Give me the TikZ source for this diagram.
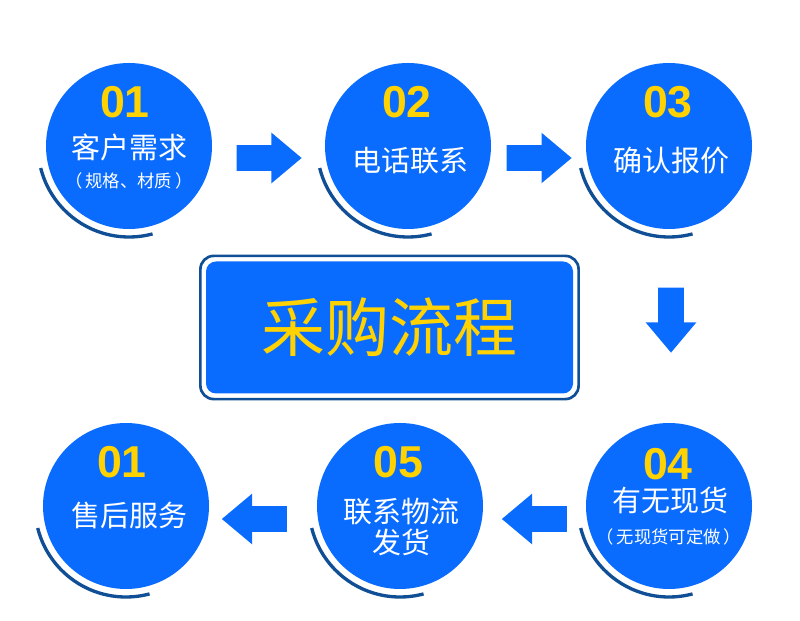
\documentclass[tikz,border=0pt]{standalone}
\usepackage{fontspec}
\newfontfamily\cjk{Noto Sans CJK SC}
\newfontfamily\digits{Liberation Sans}
\usetikzlibrary{calc,fit,shapes.arrows}
\definecolor{stepblue}{RGB}{10,108,255}
\definecolor{ringblue}{RGB}{16,78,150}
\definecolor{numyellow}{RGB}{255,210,0}
\tikzset{stepcircle/.style={circle,fill=stepblue,minimum size=124.5pt,inner sep=0pt}}
\tikzset{ring/.style={draw=ringblue,line width=2.5pt}}
\tikzset{stepnum/.style={text=numyellow,inner sep=0pt,font=\digits\bfseries\fontsize{33.5pt}{36pt}\selectfont}}
\tikzset{steptext/.style={text=white,inner sep=0pt,align=center,font=\cjk\fontsize{21.75pt}{23.25pt}\selectfont}}
\tikzset{stepnote/.style={text=white,inner sep=0pt,font=\cjk\fontsize{13pt}{15pt}\selectfont}}
\tikzset{flowarrow/.style={single arrow,fill=stepblue,inner sep=9.375pt,minimum height=48.75pt,single arrow head extend=9.375pt,single arrow tip angle=80}}
\tikzset{titlebox/.style={rectangle,rounded corners=7.5pt,fill=stepblue,minimum width=275.25pt,minimum height=99pt,text=numyellow,font=\cjk\fontsize{48pt}{50pt}\selectfont}}
\tikzset{titleframe/.style={rectangle,rounded corners=10pt,draw=ringblue,line width=2pt,inner sep=4pt}}
\begin{document}
\begin{tikzpicture}[x=0.75pt,y=0.75pt]
\useasboundingbox(0,0)rectangle(800,621);
% circles
\node(c1)[stepcircle]at(129,475){};\node(c2)[stepcircle]at(408,475){};\node(c3)[stepcircle]at(669,475){};
\node(c4)[stepcircle]at(669,115){};\node(c5)[stepcircle]at(400,115){};\node(c6)[stepcircle]at(126,115){};
% rings
\draw[ring]($(c1)+(194:91)$)arc[start angle=194,end angle=285,radius=91];
\draw[ring]($(c2)+(194:91)$)arc[start angle=194,end angle=285,radius=91];
\draw[ring]($(c3)+(194:91)$)arc[start angle=194,end angle=285,radius=91];
\draw[ring]($(c4)+(194:91)$)arc[start angle=194,end angle=285,radius=91];
\draw[ring]($(c5)+(194:91)$)arc[start angle=194,end angle=285,radius=91];
\draw[ring]($(c6)+(194:91)$)arc[start angle=194,end angle=285,radius=91];
% numbers
\begin{scope}[stepnum]
\node(n1)at($(c1)+(-4,43.5)$){01};\node(n2)at($(c2)+(-1,44)$){02};\node(n3)at($(c3)+(-1,44)$){03};
\node(n4)at($(c4)+(-1,42)$){04};\node(n5)at($(c5)+(-1.5,44.3)$){05};\node(n6)at($(c6)+(-4,43.5)$){01};
\end{scope}
% texts
\node(t1)[steptext]at($(c1)+(0,-1.5)$){客户需求};\node(s1)[stepnote]at($(c1)+(0,-35)$){（\,规格、材质\,）};
\node(t2)[steptext]at($(c2)+(2,-15)$){电话联系};
\node(t3)[steptext]at($(c3)+(2,-15)$){确认报价};
\node(t4)[steptext]at($(c4)+(1,5.5)$){有无现货};\node(s4)[stepnote]at($(c4)+(0,-30.5)$){（\,无现货可定做\,）};
\node(t5)[steptext]at($(c5)+(1.5,-21)$){联系物流\\发货};
\node(t6)[steptext]at($(c6)+(3,-9.5)$){售后服务};
% arrows
\node(a12)[flowarrow]at(261.5,463){};\node(a23)[flowarrow]at(531.5,463){};
\node(a34)[flowarrow,shape border rotate=270]at(671,308.5){};
\node(a45)[flowarrow,shape border rotate=180]at(542,102){};\node(a56)[flowarrow,shape border rotate=180]at(262,102){};
% title
\node(title)[titlebox]at(389.5,293.5){采购流程};
\node(frame)[titleframe,fit=(title)]{};
\end{tikzpicture}
\end{document}
